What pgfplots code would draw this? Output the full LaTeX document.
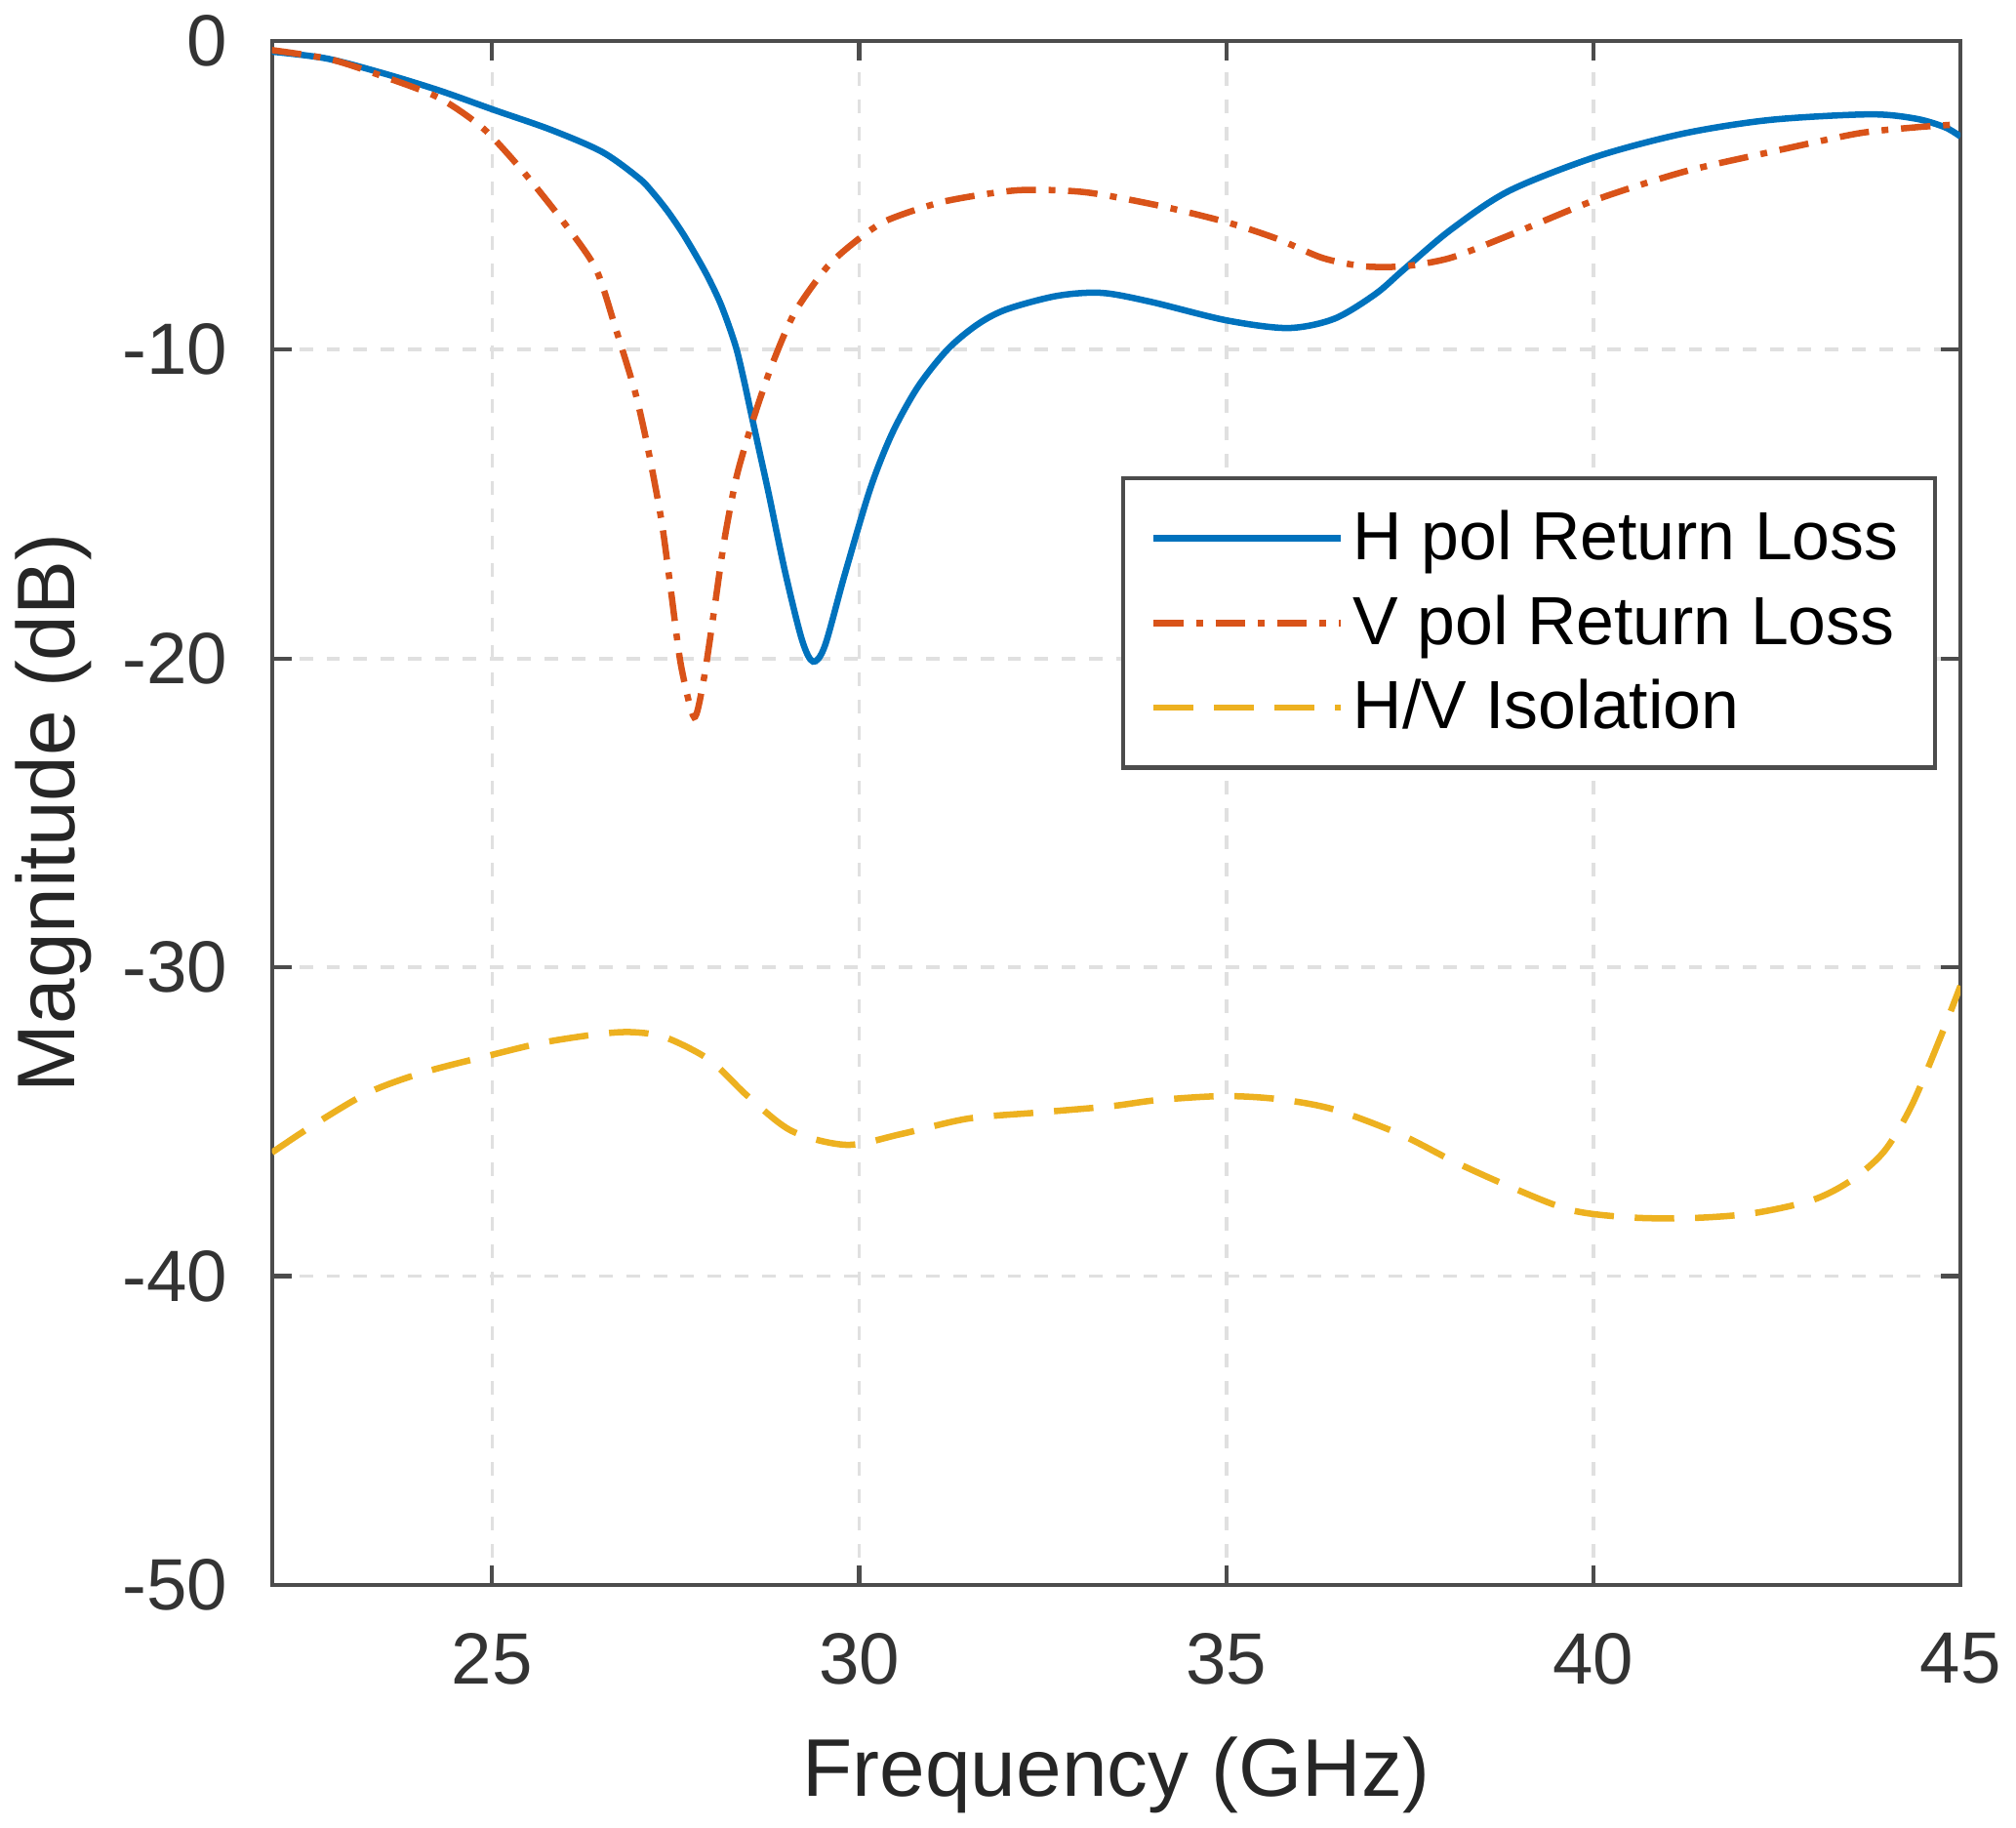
\documentclass[border=0pt]{standalone}
\usepackage{pgfplots}
\pgfplotsset{compat=1.18}
\usepackage{fontspec}
\setmainfont{Liberation Sans}
\definecolor{mblue}{RGB}{0,114,189}
\definecolor{morange}{RGB}{217,83,25}
\definecolor{myellow}{RGB}{237,177,32}
\begin{document}
\begin{tikzpicture}
\begin{axis}[
    scale only axis,
    width=13.07cm, height=11.95cm,
    xmin=22, xmax=45, ymin=-50, ymax=0,
    xtick={25,30,35,40,45},
    ytick={-50,-40,-30,-20,-10,0},
    grid=major,
    major grid style={dashed, black!12, line width=0.8pt},
    axis line style={black!70, line width=0.9pt},
    tick align=inside,
    tick style={black!70, line width=0.9pt},
    major tick length=0.15cm,
    /pgf/number format/assume math mode=true,
    tick label style={font=\fontsize{16}{19}\selectfont, text=black!80},
    xticklabel style={yshift=-0.25cm},
    yticklabel style={xshift=-0.22cm},
    label style={font=\fontsize{18}{22}\selectfont, text=black!85},
    xlabel={Frequency (GHz)},
    xlabel style={yshift=-0.16cm},
    ylabel={Magnitude (dB)},
    legend style={at={(0.986,0.718)}, anchor=north east,
        draw=black!70, line width=0.9pt,
        font=\fontsize{15}{18}\selectfont,
        row sep=2.3pt, inner xsep=6pt, inner ysep=5pt},
    legend cell align=left,
    legend image code/.code={\draw[#1] (0cm,0cm) -- (1.45cm,0cm);},
]
\addplot[mblue, line width=1.4pt, smooth, tension=0.5] coordinates {
(22.0,-0.35)(22.74,-0.57)(23.5,-1.04)(24.27,-1.6)(25.04,-2.25)(25.8,-2.88)
(26.5,-3.6)(27.0,-4.45)(27.2,-4.95)(27.4,-5.55)(27.6,-6.25)(27.8,-7.05)
(27.95,-7.7)(28.1,-8.45)(28.22,-9.2)(28.33,-10.0)(28.43,-11.0)(28.53,-12.1)
(28.65,-13.4)(28.77,-14.7)(28.99,-17.2)(29.22,-19.4)(29.37,-20.1)
(29.53,-19.6)(29.8,-17.3)(30.15,-14.5)(30.45,-12.7)(30.8,-11.2)(31.2,-10.0)
(31.6,-9.2)(32.0,-8.7)(32.69,-8.26)(33.3,-8.16)(33.97,-8.45)(35.0,-9.05)
(35.84,-9.3)(36.47,-9.0)(37.03,-8.2)(37.42,-7.4)(38.05,-6.13)(38.85,-4.86)
(40.04,-3.75)(41.23,-3.0)(42.41,-2.56)(43.76,-2.38)(44.39,-2.52)(44.79,-2.8)(45,-3.1)
};
\addlegendentry{H pol Return Loss}
\addplot[morange, line width=1.4pt, smooth, tension=0.45,
    dash pattern=on 6.5pt off 2.8pt on 1.5pt off 2.8pt] coordinates {
(22.0,-0.3)(22.8,-0.6)(23.5,-1.14)(24.27,-1.84)(24.88,-2.84)(25.41,-4.2)
(25.95,-5.8)(26.41,-7.37)(26.68,-9.3)(26.95,-11.4)(27.13,-13.3)
(27.31,-15.6)(27.44,-17.9)(27.57,-20.2)(27.75,-21.9)(27.88,-20.7)(28.02,-18.5)
(28.16,-16.2)(28.33,-14.1)(28.55,-12.3)(28.81,-10.5)(29.12,-8.8)(29.57,-7.3)
(30.0,-6.4)(30.39,-5.8)(31.16,-5.2)(32.15,-4.84)(33.07,-4.9)(34.09,-5.34)
(35.0,-5.87)(35.68,-6.4)(36.31,-7.03)(36.87,-7.3)(37.42,-7.3)(38.05,-7.03)
(38.85,-6.3)(40.04,-5.14)(41.23,-4.24)(42.41,-3.6)(43.6,-3.0)(44.39,-2.8)(45,-2.7)
};
\addlegendentry{V pol Return Loss}
\addplot[myellow, line width=1.4pt, smooth, tension=0.5,
    dash pattern=on 8.7pt off 4.6pt] coordinates {
(22.0,-36.0)(22.57,-35.1)(23.32,-34.05)(24.07,-33.4)(24.97,-32.85)(25.71,-32.43)
(26.46,-32.16)(26.91,-32.1)(27.36,-32.27)(27.96,-33.0)(28.48,-34.17)(29.08,-35.3)
(29.83,-35.75)(30.57,-35.4)(31.48,-34.9)(32.45,-34.7)(33.42,-34.5)(34.06,-34.3)
(34.96,-34.17)(35.71,-34.27)(36.46,-34.6)(37.36,-35.4)(38.11,-36.3)(38.86,-37.1)
(39.69,-37.86)(40.51,-38.1)(41.33,-38.12)(42.16,-37.97)(42.98,-37.54)(43.51,-36.9)
(43.96,-35.96)(44.33,-34.5)(44.71,-32.37)(45,-30.6)
};
\addlegendentry{H/V Isolation}
\end{axis}
\end{tikzpicture}
\end{document}
